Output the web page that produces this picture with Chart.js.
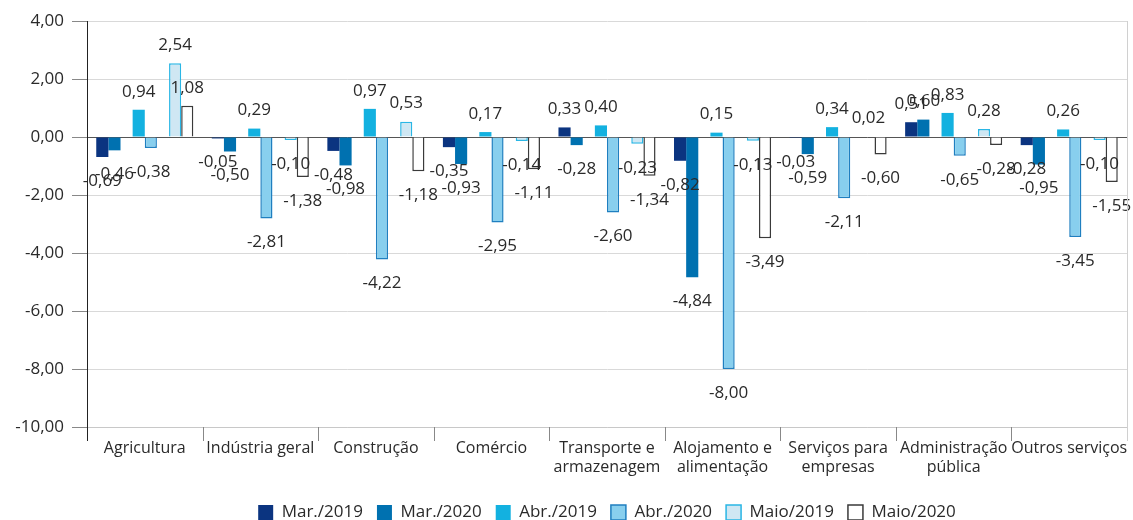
<!DOCTYPE html>
<html>
<head>
<meta charset="utf-8">
<script src="https://cdn.jsdelivr.net/npm/chart.js@4.4.1/dist/chart.umd.min.js"></script>
<style>
  html, body { margin: 0; background: #fff; }
</style>
</head>
<body>
<canvas id="chart" width="1133" height="520"></canvas>
<script>
// ── Data ─────────────────────────────────
const categories = [
  'Agricultura', 'Indústria geral', 'Construção', 'Comércio',
  ['Transporte e', 'armazenagem'], ['Alojamento e', 'alimentação'],
  ['Serviços para', 'empresas'], ['Administração', 'pública'], 'Outros serviços'
];
const mar2019  = [-0.69, -0.05, -0.48, -0.35,  0.33, -0.82, -0.03,  0.51, -0.28];
const mar2020  = [-0.46, -0.50, -0.98, -0.93, -0.28, -4.84, -0.59,  0.60, -0.95];
const abr2019  = [ 0.94,  0.29,  0.97,  0.17,  0.40,  0.15,  0.34,  0.83,  0.26];
const abr2020  = [-0.38, -2.81, -4.22, -2.95, -2.60, -8.00, -2.11, -0.65, -3.45];
const maio2019 = [ 2.54, -0.10,  0.53, -0.14, -0.23, -0.13,  0.02,  0.28, -0.10];
const maio2020 = [ 1.08, -1.38, -1.18, -1.11, -1.34, -3.49, -0.60, -0.28, -1.55];
const yMin = -10, yMax = 4, yStep = 2;

const FONT = '"Open Sans", "Noto Sans", sans-serif';
const TEXT = '#2a2a2a';
const fmt = v => v.toFixed(2).replace('.', ',');

// empty slot between the month pairs
const spacer = () => ({ label: '', spacer: true, data: categories.map(() => null) });

// ── Value labels above / below bars ─────
const valueLabels = {
  id: 'valueLabels',
  afterDatasetsDraw(chart) {
    const ctx = chart.ctx;
    ctx.save();
    ctx.font = '17px ' + FONT;
    ctx.fillStyle = TEXT;
    ctx.textAlign = 'center';
    ctx.textBaseline = 'middle';
    chart.data.datasets.forEach((ds, i) => {
      if (ds.spacer) return;
      chart.getDatasetMeta(i).data.forEach((bar, j) => {
        const v = ds.data[j];
        ctx.fillText(fmt(v), bar.x, bar.y + (v >= 0 ? -18 : 24));
      });
    });
    ctx.restore();
  }
};

// ── Category separators + right frame ───
const frame = {
  id: 'frame',
  afterDraw(chart) {
    const { ctx, chartArea: a } = chart;
    const step = (a.right - a.left) / categories.length;
    ctx.save();
    ctx.lineWidth = 1;
    ctx.strokeStyle = '#d0d0d0';
    ctx.beginPath();
    ctx.moveTo(a.right + 0.5, a.top);
    ctx.lineTo(a.right + 0.5, a.bottom);
    ctx.stroke();
    for (let k = 0; k <= categories.length; k++) {
      const x = Math.round(a.left + k * step) + 0.5;
      ctx.strokeStyle = k === 0 ? '#222' : (k === categories.length ? '#d0d0d0' : '#888');
      ctx.beginPath();
      ctx.moveTo(x, a.bottom);
      ctx.lineTo(x, a.bottom + 14);
      ctx.stroke();
    }
    ctx.restore();
  }
};

new Chart(document.getElementById('chart'), {
  type: 'bar',
  data: {
    labels: categories,
    datasets: [
      { label: 'Mar./2019', data: mar2019, backgroundColor: '#0b3480', borderWidth: 0 },
      { label: 'Mar./2020', data: mar2020, backgroundColor: '#0071b0', borderWidth: 0 },
      spacer(),
      { label: 'Abr./2019', data: abr2019, backgroundColor: '#13b1e0', borderWidth: 0 },
      { label: 'Abr./2020', data: abr2020, backgroundColor: '#88cfee', borderColor: '#1f7fc0', borderWidth: 1.5 },
      spacer(),
      { label: 'Maio/2019', data: maio2019, backgroundColor: '#cfe7f3', borderColor: '#2ab6e5', borderWidth: 1.5 },
      { label: 'Maio/2020', data: maio2020, backgroundColor: '#ffffff', borderColor: '#3a3a3a', borderWidth: 1.5 },
    ],
  },
  options: {
    responsive: false,
    animation: false,
    layout: { padding: { top: 21, right: 6, bottom: -11, left: 0 } },
    datasets: { bar: { categoryPercentage: 0.84, barPercentage: 1.0 } },
    plugins: {
      tooltip: { enabled: false },
      legend: {
        position: 'bottom',
        fullSize: false,
        labels: {
          filter: item => item.text !== '',
          boxWidth: 15, boxHeight: 15,
          padding: 14,
          color: TEXT,
          font: { family: FONT, size: 17 },
        },
      },
    },
    scales: {
      x: {
        grid: { display: false },
        border: { display: true, color: '#c8c8c8' },
        ticks: { color: TEXT, font: { family: FONT, size: 16 }, padding: 4, maxRotation: 0, autoSkip: false },
        afterFit: s => { s.height = 63; },
      },
      y: {
        min: yMin, max: yMax,
        grid: {
          color: c => (c.tick && c.tick.value === 0 ? '#555555' : '#d9d9d9'),
          tickColor: '#888888',
          tickLength: 15,
        },
        border: { display: true, color: '#222222' },
        ticks: { stepSize: yStep, padding: 8, color: TEXT, font: { family: FONT, size: 17 }, callback: v => fmt(v) },
        afterFit: s => { s.width = 87; },
      },
    },
  },
  plugins: [valueLabels, frame],
});
</script>
</body>
</html>
